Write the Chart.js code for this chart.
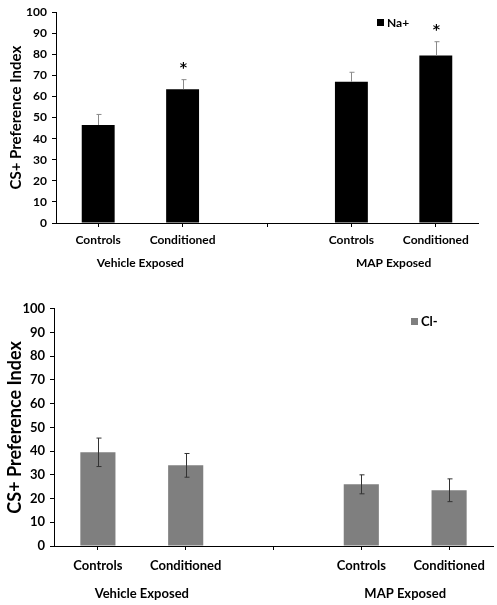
<!DOCTYPE html>
<html><head><meta charset="utf-8">
<script src="https://cdn.jsdelivr.net/npm/chart.js@4.4.0/dist/chart.umd.min.js"></script>
<style>
html,body{margin:0;padding:0;background:#fff;width:497px;height:605px;overflow:hidden}
#top{position:absolute;left:0;top:0;width:497px;height:292px}
#bot{position:absolute;left:0;top:296px;width:497px;height:309px}
</style></head><body>
<div id="top"><canvas id="c1"></canvas></div>
<div id="bot"><canvas id="c2"></canvas></div>
<script>
// ---- data ----
const categories = ['Controls', 'Conditioned', '', 'Controls', 'Conditioned'];
const groupLabels = ['Vehicle Exposed', 'MAP Exposed'];
const groupCenters = [1, 4];
const yTitle = 'CS+ Preference Index';
const naLabel = 'Na+';
const naMeans = [46.5, 63.5, null, 67, 79.5];
const naErr = [5, 4.5, null, 4.5, 6.5];
const naSig = [false, true, false, false, true];
const clLabel = 'Cl-';
const clMeans = [39.5, 34, null, 26, 23.5];
const clErr = [6, 5, null, 4, 4.8];
const clSig = [false, false, false, false, false];

const FONT = 'Lato, "Open Sans", sans-serif';

function makeChart(id, label, means, errs, sig, cfg) {
  const extras = {
    id: 'extras_' + id,
    afterDatasetsDraw(chart) {
      const ctx = chart.ctx;
      const ys = chart.scales.y;
      const meta = chart.getDatasetMeta(0);
      ctx.save();
      ctx.strokeStyle = cfg.errColor;
      ctx.lineWidth = 1;
      meta.data.forEach((bar, i) => {
        if (means[i] == null) return;
        const x = Math.round(bar.x) + 0.5;
        const yT = ys.getPixelForValue(means[i] + errs[i]);
        const yB = cfg.upOnly ? ys.getPixelForValue(means[i]) : ys.getPixelForValue(means[i] - errs[i]);
        ctx.beginPath();
        ctx.moveTo(x, yT); ctx.lineTo(x, yB);
        ctx.moveTo(x - 2, yT); ctx.lineTo(x + 3, yT);
        if (!cfg.upOnly) { ctx.moveTo(x - 2, yB); ctx.lineTo(x + 3, yB); }
        ctx.stroke();
        if (sig[i]) {
          ctx.fillStyle = '#000';
          ctx.font = 'bold 14px "DejaVu Sans", sans-serif';
          ctx.textAlign = 'center';
          ctx.textBaseline = 'middle';
          ctx.fillText('*', x, yT - 11);
        }
      });
      // legend
      ctx.fillStyle = cfg.color;
      ctx.fillRect(cfg.legX, cfg.legY - 3, 7, 7);
      ctx.fillStyle = '#000';
      ctx.font = 'bold ' + cfg.fs + 'px ' + FONT;
      ctx.textAlign = 'left';
      ctx.textBaseline = 'middle';
      ctx.fillText(label, cfg.legX + 10, cfg.legY + 1);
      ctx.restore();
    }
  };
  const tickFont = { family: FONT, size: cfg.fs, weight: 'bold' };
  return new Chart(document.getElementById(id), {
    type: 'bar',
    data: {
      labels: categories,
      datasets: [{
        label: label,
        data: means,
        backgroundColor: cfg.color,
        borderWidth: 0,
        barPercentage: cfg.barPct,
        categoryPercentage: 1
      }]
    },
    options: {
      responsive: true,
      maintainAspectRatio: false,
      animation: false,
      layout: { padding: { top: cfg.padTop, right: cfg.padRight, left: 0, bottom: 0 } },
      plugins: { legend: { display: false }, tooltip: { enabled: false } },
      scales: {
        x: {
          type: 'category',
          offset: true,
          weight: 0,
          grid: { offset: false, drawOnChartArea: false, drawTicks: true, tickLength: 4, color: '#000' },
          border: { color: '#000', width: 1 },
          ticks: { font: tickFont, color: '#000', padding: cfg.xPad, maxRotation: 0 },
          afterFit: s => { s.height = cfg.xH; }
        },
        x2: {
          type: 'linear',
          position: 'bottom',
          weight: 1,
          offset: false,
          min: 0, max: 5,
          grid: { display: false, drawTicks: false, offset: false },
          border: { display: false },
          afterBuildTicks: s => { s.ticks = groupCenters.map(v => ({ value: v })); },
          ticks: {
            autoSkip: false, maxRotation: 0,
            font: tickFont, color: '#000', padding: cfg.x2Pad,
            callback: (v, i) => groupLabels[i]
          },
          afterFit: s => { s.height = cfg.x2H; }
        },
        y: {
          min: 0, max: 100,
          grid: { drawOnChartArea: false, drawTicks: true, tickLength: 4, color: '#000' },
          border: { color: '#000', width: 1 },
          ticks: { stepSize: 10, font: tickFont, color: '#000', padding: 5 },
          title: { display: true, text: yTitle, font: { family: FONT, size: cfg.titleFs, weight: 'bold' }, color: '#000', padding: { top: cfg.titlePad, bottom: 0 } },
          afterFit: s => { s.width = cfg.yW; }
        }
      }
    },
    plugins: [extras]
  });
}

makeChart('c1', naLabel, naMeans, naErr, naSig, {
  color: '#000000', errColor: '#8a8a8a', upOnly: true, barPct: 0.39, fs: 12, titleFs: 15, titlePad: 7,
  padTop: 10, padRight: 19, xH: 30, x2H: 39, xPad: 6, x2Pad: 3, yW: 56,
  legX: 377, legY: 22
});
makeChart('c2', clLabel, clMeans, clErr, clSig, {
  color: '#7f7f7f', errColor: '#333333', upOnly: false, barPct: 0.4, fs: 13, titleFs: 18, titlePad: 4,
  padTop: 10.5, padRight: 4, xH: 28, x2H: 31, xPad: 8, x2Pad: 12, yW: 54,
  legX: 411, legY: 25
});
</script>
</body></html>
